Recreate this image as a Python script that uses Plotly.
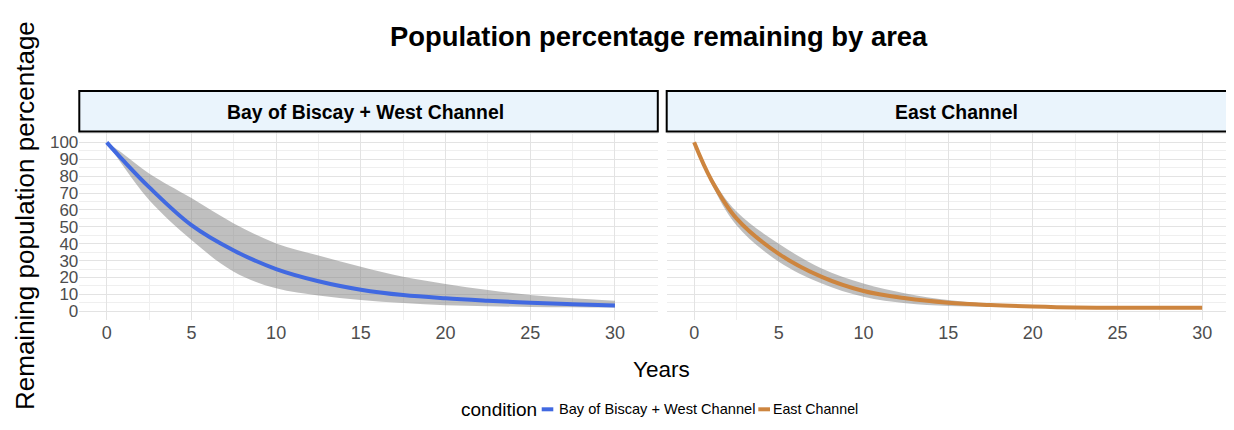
import plotly.graph_objects as go

# ---------------- data ----------------
years = [0, 1, 2.5, 5, 7.5, 10, 12.5, 15, 17.5, 20, 22.5, 25, 27.5, 30]

bob_mean  = [100, 89.0, 73.5, 51.0, 36.0, 25.0, 17.8, 12.8, 9.6, 7.7, 6.3, 5.1, 4.2, 3.5]
bob_upper = [100, 93.0, 81.6, 67.0, 52.0, 40.2, 33.0, 26.4, 20.5, 16.2, 12.6, 9.6, 7.7, 6.3]
bob_lower = [100, 85.5, 65.9, 42.2, 23.4, 13.6, 9.4, 6.7, 4.9, 3.6, 3.0, 2.6, 2.4, 2.2]

ec_mean  = [100, 78.0, 55.0, 34.0, 20.5, 12.0, 7.7, 5.1, 3.7, 2.8, 2.2, 2.1, 2.1, 2.1]
ec_upper = [100, 80.0, 59.0, 40.0, 25.5, 16.5, 10.6, 6.7, 4.3, 3.1, 2.5, 2.3, 2.2, 2.2]
ec_lower = [100, 76.0, 51.0, 29.3, 16.6, 8.6, 4.7, 3.1, 2.7, 2.4, 2.0, 2.0, 2.0, 2.0]

areas = ["Bay of Biscay + West Channel", "East Channel"]
colors = ["#4169E1", "#CD853F"]
x_ticks = [0, 5, 10, 15, 20, 25, 30]
y_ticks = [0, 10, 20, 30, 40, 50, 60, 70, 80, 90, 100]

# page body has an 8px margin: positions below are in window pixels
OFF = 8
W, H = 1234 - OFF, 430 - OFF
def px(x): return (x - OFF) / W
def py(y): return 1 - (y - OFF) / H

FONT = "Liberation Sans, Arial, sans-serif"
RIB = "rgba(128,128,128,0.5)"

fig = go.Figure()

series = [(bob_mean, bob_upper, bob_lower, "x", "y"),
          (ec_mean, ec_upper, ec_lower, "x2", "y2")]
for i, (m, up, lo, xa, ya) in enumerate(series):
    fig.add_trace(go.Scatter(x=years, y=lo, xaxis=xa, yaxis=ya, mode="lines",
                             line=dict(width=0, shape="spline", color=RIB),
                             showlegend=False, hoverinfo="skip"))
    fig.add_trace(go.Scatter(x=years, y=up, xaxis=xa, yaxis=ya, mode="lines",
                             line=dict(width=0, shape="spline", color=RIB),
                             fill="tonexty", fillcolor=RIB,
                             showlegend=False, hoverinfo="skip"))
    fig.add_trace(go.Scatter(x=years, y=m, xaxis=xa, yaxis=ya, mode="lines",
                             line=dict(width=4, shape="spline", color=colors[i]),
                             name=areas[i], showlegend=False))

grid_major = "#E3E3E3"
grid_minor = "#EFEFEF"
tickfont = dict(family=FONT, size=17, color="#4D4D4D")

xcommon = dict(tickvals=x_ticks, showgrid=True, gridcolor=grid_major, gridwidth=1,
               minor=dict(dtick=2.5, showgrid=True, gridcolor=grid_minor, gridwidth=1),
               zeroline=False, showline=False, ticks="", tickfont=dict(tickfont, size=18))
ycommon = dict(range=[-5.15, 106.3], tickvals=y_ticks, showgrid=True, gridcolor=grid_major,
               gridwidth=1, minor=dict(dtick=5, showgrid=True, gridcolor=grid_minor, gridwidth=1),
               zeroline=False, showline=False, ticks="", tickfont=tickfont,
               domain=[py(320), py(131.7)])

fig.update_layout(
    width=W, height=H,
    margin=dict(l=0, r=0, t=0, b=0),
    paper_bgcolor="white", plot_bgcolor="white",
    xaxis=dict(domain=[px(79.3), px(657.8)], range=[-1.62, 32.53], anchor="y", **xcommon),
    xaxis2=dict(domain=[px(666.7), 1.0], range=[-1.62, 31.88], anchor="y2", **xcommon),
    yaxis=dict(anchor="x", **ycommon),
    yaxis2=dict(anchor="x2", matches="y", showticklabels=False,
                **{k: v for k, v in ycommon.items() if k != "range"}),
    showlegend=False,
)

# facet strips and legend keys
strip = dict(type="rect", xref="paper", yref="paper", y0=py(131.5), y1=py(91),
             fillcolor="#EAF4FC", line=dict(color="black", width=2), layer="above")
shapes = [
    dict(strip, x0=px(79.3), x1=px(657.8)),
    dict(strip, x0=px(666.7), x1=px(1246)),
    dict(type="line", xref="paper", yref="paper", x0=px(541.7), x1=px(553.3),
         y0=py(409.3), y1=py(409.3), line=dict(color=colors[0], width=4)),
    dict(type="line", xref="paper", yref="paper", x0=px(758.3), x1=px(770),
         y0=py(409.3), y1=py(409.3), line=dict(color=colors[1], width=4)),
]
fig.update_layout(shapes=shapes)

ann = [
    dict(text="<b>Population percentage remaining by area</b>", x=px(659), y=py(36),
         font=dict(size=27.4), xanchor="center"),
    dict(text="<b>" + areas[0] + "</b>", x=px(365), y=py(112),
         font=dict(size=19.4), xanchor="center"),
    dict(text="<b>" + areas[1] + "</b>", x=px(956.5), y=py(112),
         font=dict(size=19.4), xanchor="center"),
    dict(text="Years", x=px(661), y=py(369), font=dict(size=22.5), xanchor="center"),
    dict(text="Remaining population percentage", x=px(25), y=py(216), textangle=-90,
         font=dict(size=26), xanchor="center"),
    dict(text="condition", x=px(459), y=py(409.3), font=dict(size=19), xanchor="left"),
    dict(text=areas[0], x=px(557), y=py(409.3), font=dict(size=14.6), xanchor="left"),
    dict(text=areas[1], x=px(771), y=py(409.3), font=dict(size=14.2), xanchor="left"),
]
for a in ann:
    a["font"].update(family=FONT, color="black")
    a.update(xref="paper", yref="paper", showarrow=False, yanchor="middle")
fig.update_layout(annotations=ann)

fig.write_html("out.html")
